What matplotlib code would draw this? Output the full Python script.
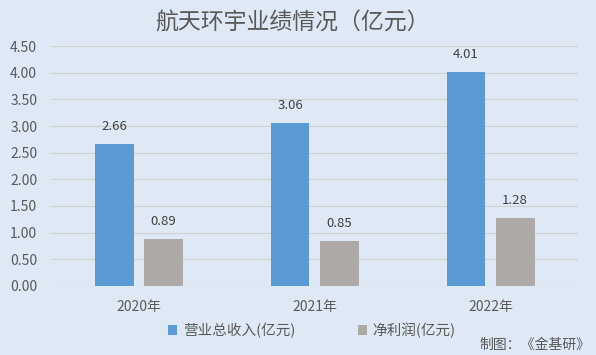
import matplotlib.pyplot as plt
import numpy as np

plt.rcParams['font.family'] = ['Noto Sans CJK SC', 'DejaVu Sans']

years = ["2020年", "2021年", "2022年"]
revenue = [2.66, 3.06, 4.01]
profit = [0.89, 0.85, 1.28]
yticks = [0.0, 0.5, 1.0, 1.5, 2.0, 2.5, 3.0, 3.5, 4.0, 4.5]

bg = "#DEE9F5"
blue = "#5B9BD5"
gray = "#ADA9A7"
txt = "#595959"

fig = plt.figure(figsize=(5.96, 3.55), dpi=100, facecolor=bg)
ax = fig.add_axes([0.0856, 0.1944, 0.885, 0.676], facecolor=bg)

x = np.arange(len(years))
w = 0.22
b1 = ax.bar(x - 0.14, revenue, w, color=blue, label="营业总收入(亿元)", zorder=3)
b2 = ax.bar(x + 0.14, profit, w, color=gray, label="净利润(亿元)", zorder=3)
for bars in (b1, b2):
    for r in bars:
        ax.text(r.get_x() + r.get_width() / 2, r.get_height() + 0.2, f"{r.get_height():.2f}",
                ha="center", va="bottom", fontsize=9.5, color="#404040")

ax.set_xlim(-0.5, 2.5)
ax.set_ylim(0, 4.5)
ax.set_yticks(yticks)
ax.set_yticklabels([f"{v:.2f}" for v in yticks], fontsize=10, color=txt)
ax.set_xticks(x)
ax.set_xticklabels(years, fontsize=10, color=txt)
ax.tick_params(length=0)
ax.tick_params(axis="y", pad=10)
ax.tick_params(axis="x", pad=10)
ax.grid(axis="y", color="#D0D0D0", linewidth=0.8, zorder=0)
for s in ax.spines.values():
    s.set_visible(False)

fig.text(0.49, 0.935, "航天环宇业绩情况（亿元）", ha="center", va="center", fontsize=16.5, color=txt)
ax.legend(loc="center", bbox_to_anchor=(0.495, -0.185), ncol=2, frameon=False, fontsize=10.5,
          handlelength=0.6, handleheight=0.7, handletextpad=0.4, columnspacing=4.3, labelcolor=txt)
fig.text(0.99, 0.03, "制图：《金基研》", ha="right", va="center", fontsize=10, color=txt)

fig.savefig("out.png", dpi=100, facecolor=bg)
